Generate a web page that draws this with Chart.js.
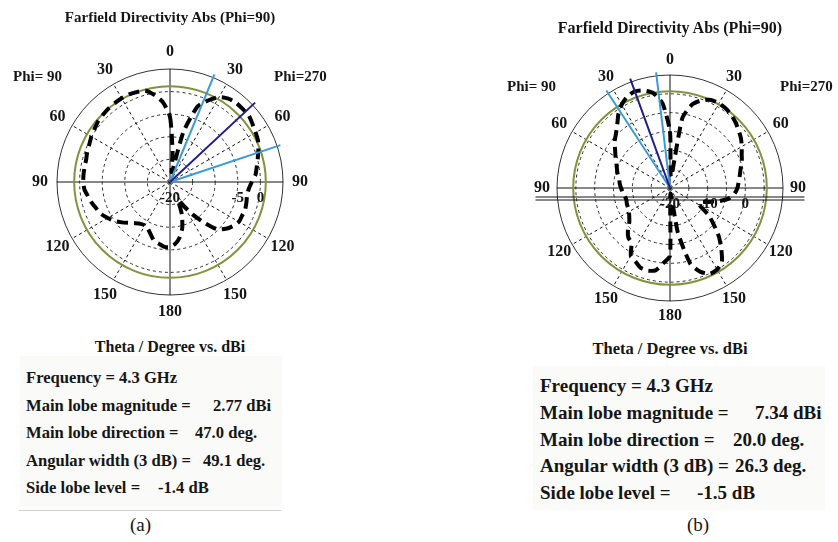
<!DOCTYPE html>
<html>
<head>
<meta charset="utf-8">
<script src="https://cdn.jsdelivr.net/npm/chart.js@4.4.1/dist/chart.umd.min.js"></script>
<style>
  html, body { margin: 0; padding: 0; background: #fff; }
  #page { position: relative; width: 838px; height: 542px; overflow: hidden;
          font-family: "Liberation Serif", "Times New Roman", serif; color: #151515; }
  canvas { position: absolute; }
  .t { position: absolute; font-weight: bold; white-space: nowrap; }
  .title { font-size: 15px; line-height: 18px; text-align: center; }
  .phi { font-size: 15px; line-height: 18px; }
  .info { position: absolute; font-weight: bold; background: #fafaf8; }
  .info .ln { position: relative; white-space: nowrap; }
  .info .v { position: absolute; top: 0; }
  .cap { position: absolute; font-size: 19px; line-height: 22px; }
</style>
</head>
<body>
<div id="page">
  <canvas id="chartA" width="340" height="320" style="left:0;top:0"></canvas>
  <canvas id="chartB" width="418" height="330" style="left:420px;top:0"></canvas>

  <div class="t title" style="left:0;top:8px;width:340px">Farfield Directivity Abs (Phi=90)</div>
  <div class="t title" style="left:500px;top:19px;width:340px;font-size:16px">Farfield Directivity Abs (Phi=90)</div>

  <div class="t phi" style="left:13px;top:67px">Phi= 90</div>
  <div class="t phi" style="left:274px;top:67px">Phi=270</div>
  <div class="t phi" style="left:507px;top:77px">Phi= 90</div>
  <div class="t phi" style="left:780px;top:77px">Phi=270</div>

  <div class="t title" style="left:0;top:338px;width:340px;font-size:16px">Theta / Degree vs. dBi</div>
  <div class="t title" style="left:500px;top:340px;width:340px;font-size:16.5px">Theta / Degree vs. dBi</div>

  <div class="info" id="infoA" style="left:20px;top:356px;width:262px;height:150px;padding-left:6px;padding-top:8px;box-sizing:border-box;font-size:16.6px;line-height:27.5px"></div>
  <div class="info" id="infoB" style="left:533px;top:366px;width:292px;height:144px;padding-left:7px;padding-top:7px;box-sizing:border-box;font-size:19px;line-height:26.8px"></div>

  <div style="position:absolute;left:19px;top:510px;width:262px;height:1px;background:#cfcfcf"></div>
  <div class="cap" style="left:130px;top:514px">(a)</div>
  <div class="cap" style="left:687px;top:514px">(b)</div>
</div>

<script>
// angular position of each sample, clockwise from theta = 0
// 0..180 -> Phi=270 half (theta = pos), 180..355 -> Phi=90 half (theta = 360 - pos)
const anglePos = [0, 5, 10, 15, 20, 25, 30, 35, 40, 45, 50, 55, 60, 65, 70, 75, 80, 85,
  90, 95, 100, 105, 110, 115, 120, 125, 130, 135, 140, 145, 150, 155, 160, 165, 170, 175,
  180, 185, 190, 195, 200, 205, 210, 215, 220, 225, 230, 235, 240, 245, 250, 255, 260, 265,
  270, 275, 280, 285, 290, 295, 300, 305, 310, 315, 320, 325, 330, 335, 340, 345, 350, 355];

// directivity (dBi) (a)
const directivityA = [-5.6, -13.4, -17.8, -8.5, -2.3, -0.1, 1.7, 2.5, 2.8, 2.8, 2.8, 2.3,
  1.9, 1.5, 0.8, 0.1, -0.5, -1.0, -1.9, -2.5, -2.7, -2.5, -2.3, -2.4,
  -2.4, -3.0, -3.9, -5.2, -8.3, -11.2, -13.8, -15.6, -12.3, -9.5, -7.6, -6.3,
  -5.6, -5.6, -6.1, -6.5, -7.6, -8.5, -8.9, -8.7, -8.1, -7.2, -6.1, -5.0,
  -4.1, -3.2, -2.7, -2.1, -1.6, -1.0, -0.8, -0.8, -0.8, -0.8, -0.5, -0.3,
  0.1, 0.4, 0.8, 1.0, 1.2, 1.3, 1.4, 1.4, 1.2, 0.9, -0.5, -2.3];

// directivity (dBi) (b)
const directivityB = [-5.0, -17.0, -1.2, 3.0, 4.8, 5.8, 6.0, 5.8, 5.3, 4.6, 3.8, 3.0,
  2.0, 1.0, 0.3, -0.6, -1.2, -1.7, -2.1, -2.8, -4.1, -6.5, -9.2, -11.0,
  -11.0, -7.5, -4.8, -1.6, 1.2, 4.0, 5.0, 5.1, 3.7, 0.8, -8.0, -18.5,
  -2.0, 0.0, 2.2, 2.7, 2.6, 1.6, 0.8, -2.2, -2.8, -4.2, -5.9, -6.8,
  -7.4, -7.7, -7.8, -8.0, -7.8, -7.4, -7.0, -6.6, -6.3, -5.6, -5.0, -4.3,
  -3.3, -2.2, -0.8, 0.3, 1.8, 3.9, 5.6, 6.8, 7.3, 6.8, 5.6, 2.5];

// theta tick labels every 30 deg of position
const thetaTickPos = [0, 30, 60, 90, 120, 150, 180, 210, 240, 270, 300, 330];
const thetaTicks = [0, 30, 60, 90, 120, 150, 180, 150, 120, 90, 60, 30];

// radial scale and ring labels
const rangeA = [-20, 5];
const rangeB = [-20, 10];
const ringTicksA = [-20, -5, 0];
const ringTicksB = [-20, -10, 0];
const greenRingA = 1.2;
const greenRingB = 5.7;

// freq GHz, main lobe magnitude dBi, main lobe direction deg, 3 dB width deg, side lobe level dB
const statsA = [4.3, 2.77, 47.0, 49.1, -1.4];
const statsB = [4.3, 7.34, 20.0, 26.3, -1.5];
const mainLobeSideA = 270;
const mainLobeSideB = 90;

const FONT = '"Liberation Serif", "Times New Roman", serif';

// draws ring, lobe lines and labels using the radial scale
const polarDecor = {
  id: 'polarDecor',
  beforeDatasetsDraw(chart, args, o) {
    const r = chart.scales.r;
    const ctx = chart.ctx;
    ctx.save();
    ctx.strokeStyle = '#84923f';
    ctx.lineWidth = 2;
    ctx.beginPath();
    ctx.arc(r.xCenter, r.yCenter, r.getDistanceFromCenterForValue(o.ring), 0, Math.PI * 2);
    ctx.stroke();
    // doubled horizontal rule seen under plot (b)
    ctx.strokeStyle = '#111';
    ctx.lineWidth = 1;
    (o.extraRules || []).forEach(dy => {
      ctx.beginPath();
      ctx.moveTo(r.xCenter - r.drawingArea * 1.19, r.yCenter + dy);
      ctx.lineTo(r.xCenter + r.drawingArea * 1.19, r.yCenter + dy);
      ctx.stroke();
    });
    ctx.restore();
  },
  afterDatasetsDraw(chart, args, o) {
    const r = chart.scales.r;
    const ctx = chart.ctx;
    const step = 360 / chart.data.labels.length;
    const toPos = theta => (o.side === 270 ? theta : 360 - theta) / step;
    const half = o.stats[3] / 2;
    const dir = o.stats[2];
    const lines = [[dir - half, '#3c9bd6'], [dir + half, '#3c9bd6'], [dir, '#1d1d8c']];

    ctx.save();
    ctx.lineWidth = 2;
    lines.forEach(([theta, color]) => {
      const p = r.getPointPosition(toPos(theta), r.drawingArea * 1.03);
      ctx.strokeStyle = color;
      ctx.beginPath();
      ctx.moveTo(r.xCenter, r.yCenter);
      ctx.lineTo(p.x, p.y);
      ctx.stroke();
    });

    ctx.fillStyle = '#151515';
    ctx.font = 'bold 16px ' + FONT;
    ctx.textAlign = 'center';
    ctx.textBaseline = 'middle';
    thetaTicks.forEach((t, k) => {
      const p = r.getPointPosition(thetaTickPos[k] / step, r.drawingArea + o.labelGap);
      ctx.fillText(String(t), p.x, p.y);
    });
    ctx.font = 'bold 15px ' + FONT;
    o.ringTicks.forEach(v => {
      ctx.fillText(String(v), r.xCenter + r.getDistanceFromCenterForValue(v), r.yCenter + o.tickDy);
    });
    ctx.restore();
  }
};

function makePolar(id, values, range, padding, decor) {
  const max = range[1];
  return new Chart(document.getElementById(id), {
    type: 'radar',
    data: {
      labels: anglePos,
      datasets: [{
        data: values,
        borderColor: '#000',
        borderWidth: 4,
        borderDash: [11, 6],
        pointRadius: 0,
        fill: false,
        tension: 0.2
      }]
    },
    options: {
      responsive: false,
      animation: false,
      layout: { padding },
      plugins: {
        legend: { display: false },
        tooltip: { enabled: false },
        polarDecor: decor
      },
      scales: {
        r: {
          min: range[0],
          max: range[1],
          ticks: { display: false, stepSize: 5 },
          pointLabels: { display: false },
          grid: {
            circular: true,
            color: ctx => ctx.tick.value >= max ? '#333' : '#2a2a2a',
            lineWidth: 1
          },
          border: { dash: ctx => ctx.tick.value >= max ? [] : [3, 3] },
          angleLines: {
            color: ctx => (anglePos[ctx.index] % 30 === 0) ? '#111' : 'transparent',
            lineWidth: ctx => (anglePos[ctx.index] % 30 === 0) ? 1 : 0,
            borderDash: ctx => (anglePos[ctx.index] % 90 === 0) ? [] : [3, 3]
          }
        }
      }
    },
    plugins: [polarDecor]
  });
}

makePolar('chartA', directivityA, rangeA, { left: 57, right: 57, top: 69, bottom: 25 }, {
  ring: greenRingA, side: mainLobeSideA, stats: statsA, ringTicks: ringTicksA, labelGap: 17, tickDy: 16
});
makePolar('chartB', directivityB, rangeB, { left: 137, right: 55, top: 75, bottom: 29 }, {
  ring: greenRingB, side: mainLobeSideB, stats: statsB, ringTicks: ringTicksB, labelGap: 15, tickDy: 16,
  extraRules: [9, 12]
});

// info text under each plot
function fillInfo(id, stats, valueX) {
  const rows = [
    ['Frequency = ' + stats[0].toFixed(1) + ' GHz', null],
    ['Main lobe magnitude =', stats[1].toFixed(2) + ' dBi'],
    ['Main lobe direction =', stats[2].toFixed(1) + ' deg.'],
    ['Angular width (3 dB) =', stats[3].toFixed(1) + ' deg.'],
    ['Side lobe level =', stats[4].toFixed(1) + ' dB']
  ];
  const box = document.getElementById(id);
  rows.forEach(([label, value], i) => {
    const ln = document.createElement('div');
    ln.className = 'ln';
    ln.textContent = label;
    if (value !== null) {
      const v = document.createElement('span');
      v.className = 'v';
      v.style.left = valueX[i - 1] + 'px';
      v.textContent = value;
      ln.appendChild(v);
    }
    box.appendChild(ln);
  });
}
fillInfo('infoA', statsA, [187, 169, 177, 132]);
fillInfo('infoB', statsB, [215, 193, 195, 157]);
</script>
</body>
</html>
